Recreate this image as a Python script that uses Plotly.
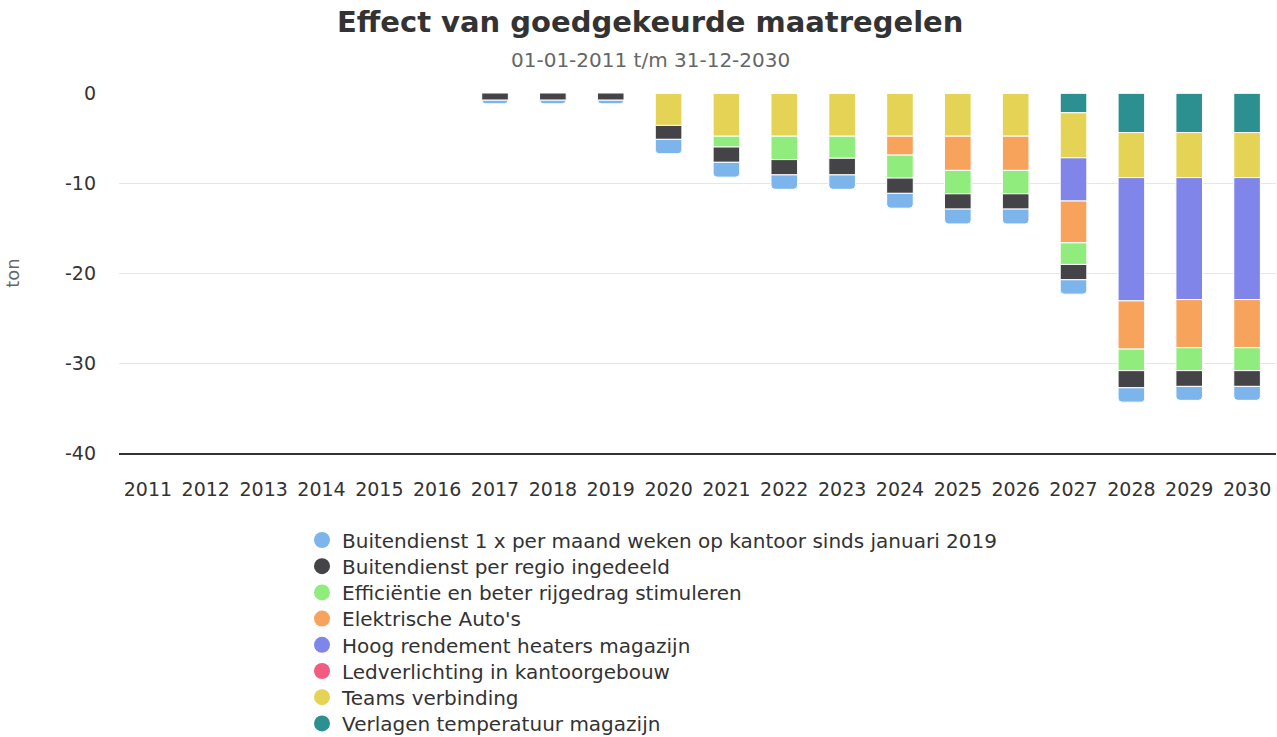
import plotly.graph_objects as go

years = [str(y) for y in range(2011, 2031)]

# values in ton (negative = reduction); order 2011..2030
verlagen_temp = [0, 0, 0, 0, 0, 0, 0, 0, 0, 0, 0, 0, 0, 0, 0, 0, -2.2, -4.4, -4.4, -4.4]
teams = [0, 0, 0, 0, 0, 0, 0, 0, 0, -3.6, -4.8, -4.8, -4.8, -4.8, -4.8, -4.8, -5.0, -5.0, -5.0, -5.0]
ledverlichting = [0] * 20
hoog_rendement = [0, 0, 0, 0, 0, 0, 0, 0, 0, 0, 0, 0, 0, 0, 0, 0, -4.8, -13.7, -13.55, -13.55]
elektrische = [0, 0, 0, 0, 0, 0, 0, 0, 0, 0, 0, 0, 0, -2.1, -3.8, -3.8, -4.65, -5.35, -5.35, -5.35]
efficientie = [0, 0, 0, 0, 0, 0, 0, 0, 0, 0, -1.2, -2.6, -2.45, -2.55, -2.6, -2.6, -2.4, -2.4, -2.55, -2.55]
per_regio = [0, 0, 0, 0, 0, 0, -0.8, -0.8, -0.8, -1.55, -1.7, -1.7, -1.85, -1.7, -1.7, -1.7, -1.7, -1.9, -1.75, -1.75]
buitendienst_1x = [0, 0, 0, 0, 0, 0, -0.4, -0.4, -0.4, -1.6, -1.65, -1.6, -1.6, -1.65, -1.65, -1.65, -1.6, -1.6, -1.55, -1.55]

series_names = [
    "Buitendienst 1 x per maand weken op kantoor sinds januari 2019",
    "Buitendienst per regio ingedeeld",
    "Efficiëntie en beter rijgedrag stimuleren",
    "Elektrische Auto's",
    "Hoog rendement heaters magazijn",
    "Ledverlichting in kantoorgebouw",
    "Teams verbinding",
    "Verlagen temperatuur magazijn",
]
series_values = [buitendienst_1x, per_regio, efficientie, elektrische,
                 hoog_rendement, ledverlichting, teams, verlagen_temp]
colors = ["#7cb5ec", "#434348", "#90ed7d", "#f7a35c", "#8085e9", "#f15c80", "#e4d354", "#2b908f"]

y_ticks = [0, -10, -20, -30, -40]
y_ticktext = ["0", "-10", "-20", "-30", "-40"]

title_text = "Effect van goedgekeurde maatregelen"
subtitle_text = "01-01-2011 t/m 31-12-2030"

W, H = 1277, 737
ML, MR, MT, MB = 119, 1, 93, 284
PW, PH = W - ML - MR, H - MT - MB


def px_x(px):
    return (px - ML) / PW


def px_y(py):
    return 1 - (py - MT) / PH


fig = go.Figure()

# stacking order: first trace sits next to zero
for i in reversed(range(len(series_names))):
    fig.add_trace(go.Bar(
        x=years, y=series_values[i], name=series_names[i],
        marker=dict(color=colors[i], line=dict(color="white", width=1)),
        width=0.46, showlegend=False,
    ))

# legend entries with round symbols, one legend per row for exact spacing
legend_layouts = {}
for i in range(len(series_names)):
    lid = "legend" if i == 0 else f"legend{i + 1}"
    fig.add_trace(go.Scatter(
        x=[None], y=[None], mode="markers", name=series_names[i],
        marker=dict(color=colors[i], size=16, symbol="circle"),
        showlegend=True, legend=lid,
    ))
    legend_layouts[lid] = dict(
        orientation="v", x=px_x(302), xanchor="left",
        y=px_y(540 + i * 26.2), yanchor="middle",
        font=dict(family="DejaVu Sans", size=20, color="#333333"),
        itemsizing="trace", bgcolor="rgba(0,0,0,0)",
    )

fig.update_layout(
    barmode="relative",
    barcornerradius=4,
    width=W, height=H,
    paper_bgcolor="white", plot_bgcolor="white",
    margin=dict(l=ML, r=MR, t=MT, b=MB, autoexpand=False),
    font=dict(family="DejaVu Sans", size=18, color="#333333"),
    xaxis=dict(
        type="category", showgrid=False, showline=True, linecolor="#333333", linewidth=1.5,
        ticks="", ticklabelstandoff=18, tickfont=dict(size=19, color="#333333"), fixedrange=True,
    ),
    yaxis=dict(
        range=[-40, 0], tickvals=y_ticks, ticktext=y_ticktext,
        showgrid=True, gridcolor="#e6e6e6", gridwidth=1, zeroline=False,
        showline=False, ticks="", ticklabelstandoff=22,
        tickfont=dict(size=19, color="#333333"),
        title=dict(text="ton", font=dict(size=18, color="#666666"), standoff=40),
    ),
    annotations=[
        dict(text="<b>" + title_text + "</b>", xref="paper", yref="paper",
             x=px_x(650), y=px_y(22), xanchor="center", yanchor="middle",
             showarrow=False, font=dict(family="DejaVu Sans", size=29, color="#333333")),
        dict(text=subtitle_text, xref="paper", yref="paper",
             x=px_x(650), y=px_y(60), xanchor="center", yanchor="middle",
             showarrow=False, font=dict(family="DejaVu Sans", size=20, color="#666666")),
    ],
    **legend_layouts,
)

fig.write_html("out.html", config={"displayModeBar": False},
               post_script="document.body.style.margin='0';")
